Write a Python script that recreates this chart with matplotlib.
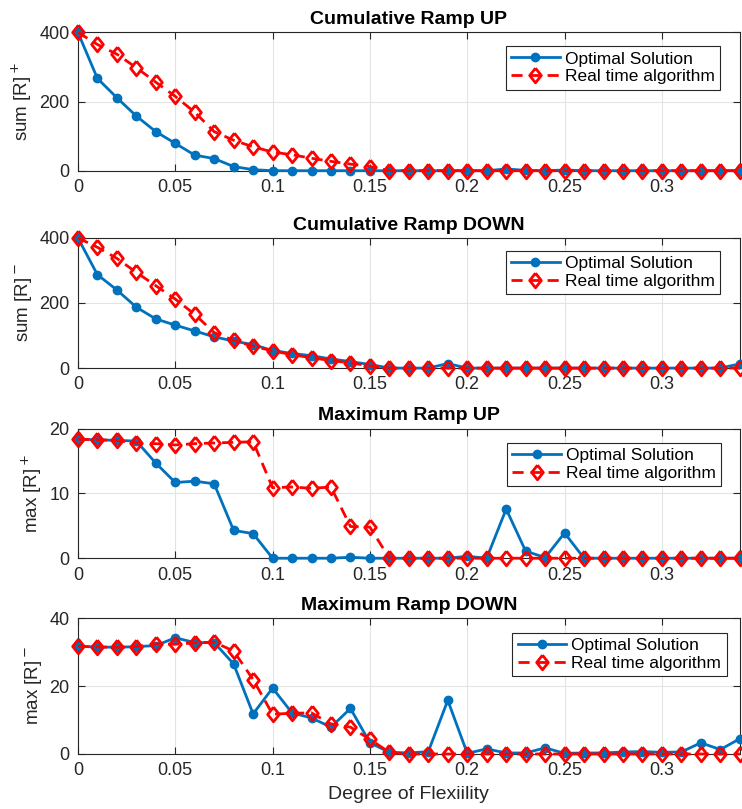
import matplotlib.pyplot as plt
import numpy as np

plt.rcParams['font.family'] = ['Liberation Sans', 'DejaVu Sans']

flex = np.arange(35) * 0.01

sum_up_opt = [400, 267, 211, 158, 113, 79, 45, 35, 12, 3, 0, 0, 0, 0, 0, 0, 0, 0, 0, 0,
              0, 0, 5, 1, 0, 2, 0, 0, 0, 0, 0, 0, 0, 0, 0]
sum_up_rt = [400, 365, 337, 298, 256, 215, 169, 113, 88, 69, 54, 46, 36, 27, 19, 12, 0, 0, 0, 0,
             0, 0, 0, 0, 0, 0, 0, 0, 0, 0, 0, 0, 0, 0, 0]

sum_dn_opt = [400, 287, 240, 187, 151, 132, 114, 96, 83, 72, 54, 45, 38, 28, 20, 11, 0, 0, 0, 14,
              0, 0, 0, 0, 0, 0, 0, 0, 0, 0, 0, 0, 0, 0, 13]
sum_dn_rt = [400, 371, 337, 294, 253, 212, 165, 109, 85, 67, 53, 41, 32, 23, 16, 7, 0, 0, 0, 0,
             0, 0, 0, 0, 0, 0, 0, 0, 0, 0, 0, 0, 0, 0, 0]

max_up_opt = [18.4, 18.3, 18.2, 18.1, 14.7, 11.7, 11.9, 11.5, 4.3, 3.8, 0, 0, 0, 0, 0.15, 0, 0, 0, 0, 0,
              0.3, 0, 7.6, 1.1, 0.1, 3.9, 0, 0, 0, 0, 0, 0, 0, 0, 0]
max_up_rt = [18.4, 18.3, 18.2, 17.8, 17.7, 17.5, 17.7, 17.8, 17.9, 18.0, 10.9, 11.0, 10.8, 11.0, 4.9, 4.8, 0, 0, 0, 0,
             0, 0, 0, 0, 0, 0, 0, 0, 0, 0, 0, 0, 0, 0, 0]

max_dn_opt = [31.7, 31.5, 31.4, 31.6, 31.9, 34.2, 32.8, 32.8, 26.5, 11.8, 19.4, 12.1, 10.6, 7.9, 13.4, 3.3, 0.5, 0.3, 0.7, 15.8,
              0.2, 1.5, 0.3, 0.3, 1.8, 0.2, 0.3, 0.3, 0.6, 0.7, 0.5, 0.6, 3.3, 1.3, 4.5]
max_dn_rt = [31.7, 31.5, 31.4, 31.6, 32.4, 32.3, 32.7, 32.9, 30.3, 21.9, 11.7, 12.0, 12.1, 8.8, 7.9, 4.3, 0.5, 0, 0, 0,
             0, 0, 0, 0, 0, 0, 0, 0, 0, 0, 0, 0, 0, 0, 0]

titles = ['Cumulative Ramp UP', 'Cumulative Ramp DOWN', 'Maximum Ramp UP', 'Maximum Ramp DOWN']
ylabels = ['sum [R]$^+$', 'sum [R]$^-$', 'max [R]$^+$', 'max [R]$^-$']
ylims = [(0, 400), (0, 400), (0, 20), (0, 40)]
yticks = [[0, 200, 400], [0, 200, 400], [0, 10, 20], [0, 20, 40]]
xticks = [0, 0.05, 0.1, 0.15, 0.2, 0.25, 0.3]
xticklabels = ['0', '0.05', '0.1', '0.15', '0.2', '0.25', '0.3']
series = [(sum_up_opt, sum_up_rt), (sum_dn_opt, sum_dn_rt),
          (max_up_opt, max_up_rt), (max_dn_opt, max_dn_rt)]

# matlab-like diamond, a bit narrower than tall
diamond = [(0, 1), (0.8, 0), (0, -1), (-0.8, 0), (0, 1)]

# axes boxes in figure fraction (left, bottom, width, height)
boxes = [(0.105, 0.789, 0.892, 0.171), (0.105, 0.545, 0.892, 0.161),
         (0.105, 0.310, 0.892, 0.160), (0.105, 0.068, 0.892, 0.168)]
leg_anchor = [(0.97, 0.9), (0.97, 0.9), (0.972, 0.89), (0.98, 0.89)]

fig = plt.figure(figsize=(7.42, 8.09), dpi=100)
for i in range(4):
    ax = fig.add_axes(boxes[i])
    opt, rt = series[i]
    ax.plot(flex, opt, color='#0072BD', linewidth=2.0, marker='o', markersize=6,
            markeredgecolor='#0072BD', markerfacecolor='#0072BD', label='Optimal Solution',
            zorder=3, clip_on=False)
    ax.plot(flex, rt, color='red', linewidth=2.0, linestyle=(0, (4, 2.5)), marker=diamond, markersize=10.5,
            markerfacecolor='none', markeredgecolor='red', markeredgewidth=2.0,
            label='Real time algorithm', zorder=4, clip_on=False)
    ax.set_xlim(0, 0.34)
    ax.set_ylim(*ylims[i])
    ax.set_xticks(xticks)
    ax.set_xticklabels(xticklabels)
    ax.set_yticks(yticks[i])
    ax.grid(True, color='#e3e3e3', linewidth=0.8)
    ax.set_axisbelow(True)
    ax.tick_params(direction='in', top=True, right=True, labelsize=13, colors='#262626',
                   length=5, width=0.8, pad=6)
    for s in ax.spines.values():
        s.set_color('#262626')
        s.set_linewidth(0.8)
    ax.set_title(titles[i], fontsize=14, fontweight='bold', pad=6)
    ax.set_ylabel(ylabels[i], fontsize=13.5, color='#262626', labelpad=4)
    leg = ax.legend(loc='upper right', bbox_to_anchor=leg_anchor[i], borderaxespad=0,
                    fontsize=12.5, fancybox=False, framealpha=1, edgecolor='#262626',
                    handlelength=2.8, handletextpad=0.3, borderpad=0.3, labelspacing=0.15)
    leg.get_frame().set_linewidth(0.8)
    if i == 3:
        ax.set_xlabel('Degree of Flexiility', fontsize=14, color='#262626', labelpad=5)

fig.savefig('out.png', dpi=100)
